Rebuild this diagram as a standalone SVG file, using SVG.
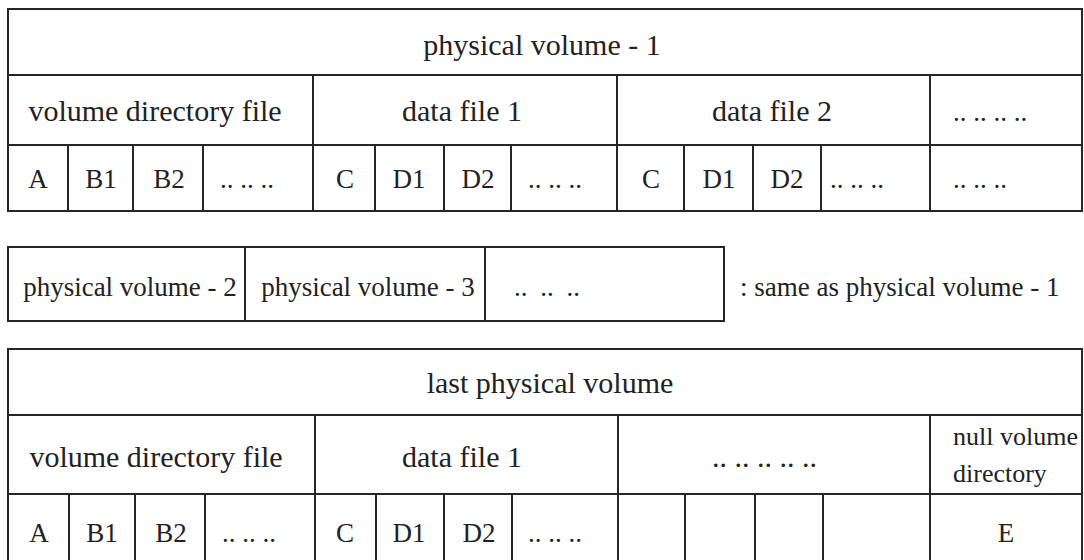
<svg xmlns="http://www.w3.org/2000/svg" width="1084" height="560" viewBox="0 0 1084 560">
<style>
.ln{stroke:#262626;stroke-width:2;fill:none}
.box{stroke:#262626;stroke-width:2;fill:#fff}
text{font-family:"Liberation Serif","Times New Roman",serif;fill:#222}
.t30{font-size:30px}
.t27{font-size:27px}
.t26{font-size:26px}
.c{text-anchor:middle}
</style>
<rect width="1084" height="560" fill="#fff"/>

<g id="physical-volume-1">
  <rect class="box" x="8" y="9" width="1074" height="202"/>
  <line class="ln" x1="8" y1="75" x2="1082" y2="75"/>
  <line class="ln" x1="8" y1="145" x2="1082" y2="145"/>
  <line class="ln" x1="313" y1="75" x2="313" y2="211"/>
  <line class="ln" x1="617" y1="75" x2="617" y2="211"/>
  <line class="ln" x1="930" y1="75" x2="930" y2="211"/>
  <line class="ln" x1="68" y1="145" x2="68" y2="211"/>
  <line class="ln" x1="133" y1="145" x2="133" y2="211"/>
  <line class="ln" x1="203" y1="145" x2="203" y2="211"/>
  <line class="ln" x1="375" y1="145" x2="375" y2="211"/>
  <line class="ln" x1="444" y1="145" x2="444" y2="211"/>
  <line class="ln" x1="511" y1="145" x2="511" y2="211"/>
  <line class="ln" x1="684" y1="145" x2="684" y2="211"/>
  <line class="ln" x1="753" y1="145" x2="753" y2="211"/>
  <line class="ln" x1="821" y1="145" x2="821" y2="211"/>
  <text class="t30 c" x="542" y="55">physical volume - 1</text>
  <text class="t30 c" x="155" y="121">volume directory file</text>
  <text class="t30 c" x="462" y="121">data file 1</text>
  <text class="t30 c" x="772" y="121">data file 2</text>
  <text class="t27" x="953" y="121">.. .. .. ..</text>
  <text class="t27 c" x="38" y="188">A</text>
  <text class="t27 c" x="101" y="188">B1</text>
  <text class="t27 c" x="169" y="188">B2</text>
  <text class="t27" x="220" y="188">.. .. ..</text>
  <text class="t27 c" x="345" y="188">C</text>
  <text class="t27 c" x="409" y="188">D1</text>
  <text class="t27 c" x="478" y="188">D2</text>
  <text class="t27" x="528" y="188">.. .. ..</text>
  <text class="t27 c" x="651" y="188">C</text>
  <text class="t27 c" x="719" y="188">D1</text>
  <text class="t27 c" x="787" y="188">D2</text>
  <text class="t27" x="830" y="188">.. .. ..</text>
  <text class="t27" x="953" y="188">.. .. ..</text>
</g>

<g id="physical-volumes-2-3">
  <rect class="box" x="8" y="247" width="716" height="74"/>
  <line class="ln" x1="245" y1="247" x2="245" y2="321"/>
  <line class="ln" x1="485" y1="247" x2="485" y2="321"/>
  <text class="t27 c" x="130" y="296">physical volume - 2</text>
  <text class="t27 c" x="368" y="296">physical volume - 3</text>
  <text class="t27" x="514" y="296" style="word-spacing:6px">.. .. ..</text>
  <text class="t27" x="740" y="296">: same as physical volume - 1</text>
</g>

<g id="last-physical-volume">
  <path class="ln" d="M8,562 V349 H1082 V562"/>
  <line class="ln" x1="8" y1="415" x2="1082" y2="415"/>
  <line class="ln" x1="8" y1="494" x2="1082" y2="494"/>
  <line class="ln" x1="315" y1="415" x2="315" y2="562"/>
  <line class="ln" x1="618" y1="415" x2="618" y2="562"/>
  <line class="ln" x1="930" y1="415" x2="930" y2="562"/>
  <line class="ln" x1="69" y1="494" x2="69" y2="562"/>
  <line class="ln" x1="135" y1="494" x2="135" y2="562"/>
  <line class="ln" x1="205" y1="494" x2="205" y2="562"/>
  <line class="ln" x1="376" y1="494" x2="376" y2="562"/>
  <line class="ln" x1="444" y1="494" x2="444" y2="562"/>
  <line class="ln" x1="512" y1="494" x2="512" y2="562"/>
  <line class="ln" x1="685" y1="494" x2="685" y2="562"/>
  <line class="ln" x1="755" y1="494" x2="755" y2="562"/>
  <line class="ln" x1="823" y1="494" x2="823" y2="562"/>
  <text class="t30 c" x="550" y="393">last physical volume</text>
  <text class="t30 c" x="156" y="467">volume directory file</text>
  <text class="t30 c" x="462" y="467">data file 1</text>
  <text class="t30" x="712" y="467">.. .. .. .. ..</text>
  <text class="t26" x="953" y="445">null volume</text>
  <text class="t26" x="953" y="482">directory</text>
  <text class="t27 c" x="39" y="542">A</text>
  <text class="t27 c" x="102" y="542">B1</text>
  <text class="t27 c" x="171" y="542">B2</text>
  <text class="t27" x="222" y="542">.. .. ..</text>
  <text class="t27 c" x="345" y="542">C</text>
  <text class="t27 c" x="409" y="542">D1</text>
  <text class="t27 c" x="479" y="542">D2</text>
  <text class="t27" x="528" y="542">.. .. ..</text>
  <text class="t27 c" x="1006" y="542">E</text>
</g>

<g id="connectors"></g>
</svg>
